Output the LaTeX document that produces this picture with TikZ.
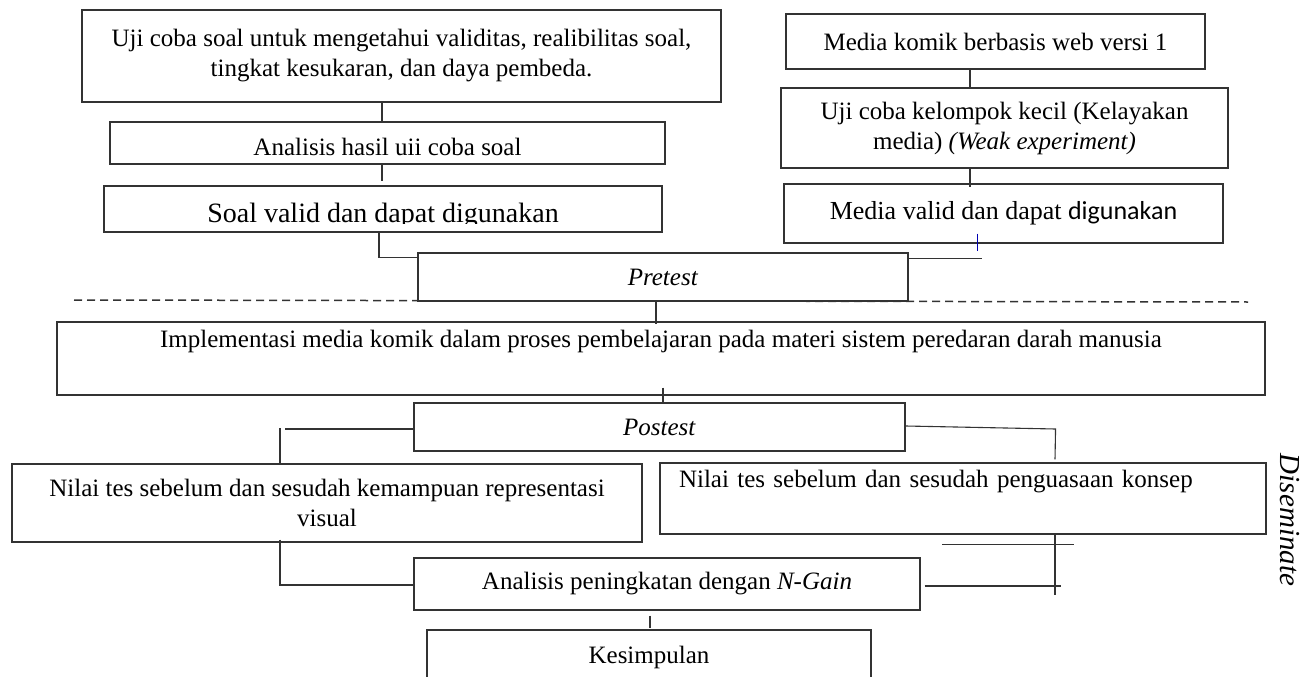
\documentclass[tikz,border=0pt]{standalone}
\usepackage{fontspec}
\setmainfont{Liberation Serif}
\newfontfamily\calfont{Carlito}
\begin{document}
\begin{tikzpicture}[x=1pt,y=-1pt,
  box/.style={draw=black!80, line width=1.1pt, fill=white, inner sep=0pt, align=center, font=\fontsize{25}{30}\selectfont},
  conn/.style={draw=black!80, line width=1.1pt}]
\useasboundingbox (0,0) rectangle (1309,677);
\clip (0,0) rectangle (1309,677);
\fill[white] (0,0) rectangle (1309,677);
% separator
\draw[black!80, line width=1.5pt, dash pattern=on 8pt off 5pt] (74,300) -- (1248,302);
% left column
\node[box, minimum width=639pt, minimum height=92pt] (b1) at (401.5,56) {Uji coba soal untuk mengetahui validitas, realibilitas soal,\\ tingkat kesukaran, dan daya pembeda.};
\node[box, minimum width=555pt, minimum height=42pt, text height=33pt, text depth=9pt] (b2) at (387.5,143) {Analisis hasil uii coba soal};
\node[box, minimum width=558pt, minimum height=46pt] (b3) at (383,209) {};
\begin{scope}
\clip (104,186) rectangle (662,223);
\node[anchor=base, inner sep=0pt, font=\fontsize{28}{30}\selectfont] (b3t) at (383,222) {Soal valid dan dapat digunakan};
\end{scope}
% right column
\node[box, minimum width=419pt, minimum height=55pt] (m1) at (995.5,41.5) {Media komik berbasis web versi 1};
\node[box, minimum width=447pt, minimum height=80pt] (m2) at (1004.5,128) {Uji coba kelompok kecil (Kelayakan\\ media) \textit{(Weak experiment)}};
\node[box, minimum width=439pt, minimum height=59pt, font=\fontsize{26}{30}\selectfont] (m3) at (1003.5,213.5) {Media valid dan dapat {\calfont digunakan}};
% middle
\node[box, minimum width=490pt, minimum height=48pt] (pre) at (663,277) {\textit{Pretest}};
\node[box, minimum width=1208pt, minimum height=73pt] (imp) at (661,358.5) {Implementasi media komik dalam proses pembelajaran pada materi sistem peredaran darah manusia\\\strut};
\node[box, minimum width=491pt, minimum height=48pt] (post) at (659.5,427) {\textit{Postest}};
\node[box, minimum width=630pt, minimum height=78pt] (rl) at (327,503) {Nilai tes sebelum dan sesudah kemampuan representasi\\ visual};
\node[box, text width=568pt, inner xsep=19pt, minimum height=71pt, align=left] (rr) at (963,498.5) {\mbox{Nilai tes sebelum dan sesudah penguasaan konsep}\\\strut};
\node[box, minimum width=506pt, minimum height=52pt] (ng) at (667,584) {Analisis peningkatan dengan \textit{N-Gain}};
\node[box, minimum width=444pt, minimum height=54pt] (kes) at (649,657) {Kesimpulan};
\node[rotate=-90, font=\fontsize{29}{30}\selectfont\itshape] (dis) at (1290,520) {Diseminate};
% junction x positions
\coordinate (xA) at (382,0);
\coordinate (xC) at (379,0);
\coordinate (xD) at (970,0);
\coordinate (xE) at (977,0);
\coordinate (xF) at (656,0);
\coordinate (xG) at (663,0);
\coordinate (xH) at (280,0);
\coordinate (xI) at (1055,0);
\coordinate (xK) at (650,0);
\coordinate (xL) at (942,0);
% connectors
\draw[conn] (b1.south -| xA) -- (b2.north -| xA);
\draw[conn] (b2.south -| xA) -- ++(0,16);
\draw[conn] (b3.south -| xC) |- ([yshift=-5pt]pre.north west);
\draw[conn] (m1.south -| xD) -- (m2.north -| xD);
\draw[conn] (m2.south -| xD) -- ([yshift=-4pt]m3.north -| xD);
\draw[blue!70!black, line width=0.8pt] ([yshift=10pt]m3.south -| xE) -- ++(0,17);
\draw[conn] ([yshift=-6pt]pre.north east) -- ++(73,0);
\draw[conn] (pre.south -| xF) -- ([yshift=-3pt]imp.north -| xF);
\draw[conn] ([yshift=8pt]imp.south -| xG) -- (post.north -| xG);
\draw[conn] ([yshift=-2pt]post.west) -- ++(-128,0);
\draw[conn] (rl.north -| xH) -- ++(0,-35);
\draw[conn] ([yshift=1pt]post.east) -- ++(150,3) -- ([yshift=3pt]rr.north -| xI);
\draw[conn] ([yshift=3pt]rl.south -| xH) |- ([yshift=-1pt]ng.west);
\draw[conn] (rr.south -| xI) -- ++(0,60);
\draw[conn] ([xshift=4pt,yshift=-2pt]ng.east) -- ++(136,0);
\draw[conn] ([yshift=-10pt]rr.south -| xL) -- ++(132,0);
\draw[conn] ([yshift=-5pt]ng.south -| xK) -- ++(0,12);
\end{tikzpicture}
\end{document}
